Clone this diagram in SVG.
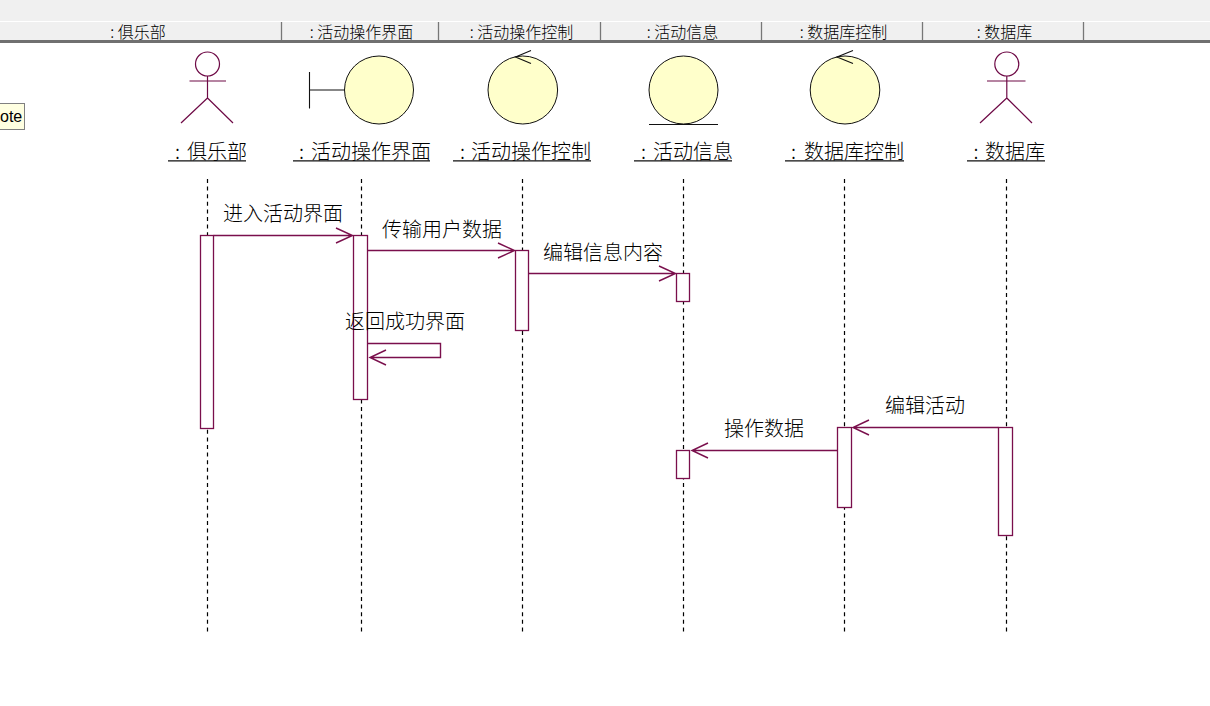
<svg xmlns="http://www.w3.org/2000/svg" width="1210" height="706" viewBox="0 0 1210 706">
<style>
text{font-family:"Noto Sans CJK SC","Noto Sans",sans-serif;fill:#000}
.h{font-size:16px;font-weight:300;text-anchor:middle}
.n{font-size:20px;font-weight:300}
.m{font-size:20px;font-weight:300}
.ul{stroke:#111;stroke-width:1.3;fill:none}
.ball{fill:#ffffcb;stroke:#111;stroke-width:1}
.ink{stroke:#111;stroke-width:1.1;fill:none}
.actor{stroke:#6e0a46;stroke-width:1.2;fill:none}
.life{stroke:#000;stroke-width:1.2;stroke-dasharray:4 3.6;fill:none}
.act{fill:#fff;stroke:#7a0f4c;stroke-width:1.3}
.msg{stroke:#7a0f4c;stroke-width:1.4;fill:none}
.sep{stroke:#777;stroke-width:1.3}
</style>
<rect width="1210" height="706" fill="#fff"/>
<g id="header">
<rect x="0" y="0" width="1210" height="41" fill="#f0f0f0"/>
<line x1="0" y1="21.500" x2="1210" y2="21.500" stroke="#fff" stroke-width="1"/>
<rect x="0" y="40" width="1210" height="3" fill="#707070"/>
<line class="sep" x1="281.500" y1="22" x2="281.500" y2="40"/>
<line class="sep" x1="438.500" y1="22" x2="438.500" y2="40"/>
<line class="sep" x1="600.500" y1="22" x2="600.500" y2="40"/>
<line class="sep" x1="761.500" y1="22" x2="761.500" y2="40"/>
<line class="sep" x1="922.500" y1="22" x2="922.500" y2="40"/>
<line class="sep" x1="1083.500" y1="22" x2="1083.500" y2="40"/>
<text class="h" x="138" y="37.500">: 俱乐部</text>
<text class="h" x="361.500" y="37.500">: 活动操作界面</text>
<text class="h" x="521.500" y="37.500">: 活动操作控制</text>
<text class="h" x="682.500" y="37.500">: 活动信息</text>
<text class="h" x="843.500" y="37.500">: 数据库控制</text>
<text class="h" x="1004.500" y="37.500">: 数据库</text>
</g>
<g id="note">
<rect x="-10" y="103.500" width="34.500" height="26" fill="#ffffe1" stroke="#808080" stroke-width="1"/>
<text x="0" y="122" font-size="16" style="font-family:'Liberation Sans',sans-serif">ote</text>
</g>
<g id="connectors">
<line class="life" x1="207.500" y1="179" x2="207.500" y2="632"/>
<line class="life" x1="361.500" y1="179" x2="361.500" y2="632"/>
<line class="life" x1="522.500" y1="179" x2="522.500" y2="632"/>
<line class="life" x1="683.500" y1="179" x2="683.500" y2="632"/>
<line class="life" x1="844.500" y1="179" x2="844.500" y2="632"/>
<line class="life" x1="1006.500" y1="179" x2="1006.500" y2="632"/>
<rect class="act" x="200.500" y="235.500" width="13" height="193"/>
<rect class="act" x="353.500" y="235.500" width="14" height="164"/>
<rect class="act" x="515.500" y="250.500" width="13" height="80"/>
<rect class="act" x="676.500" y="273.500" width="13" height="28"/>
<rect class="act" x="676.500" y="450.500" width="13" height="28"/>
<rect class="act" x="837.500" y="427.500" width="14" height="80"/>
<rect class="act" x="998.500" y="427.500" width="14" height="108"/>
<path class="msg" d="M213.500 235.500H352.500M336 228L352.500 235.500L336 243"/>
<path class="msg" d="M367.500 250.500H514.500M498 243L514.500 250.500L498 258"/>
<path class="msg" d="M528.500 273.500H675.500M659 266L675.500 273.500L659 281"/>
<path class="msg" d="M367.500 343.500H440.500V357.500H370M386 350L370 357.500L386 365"/>
<path class="msg" d="M998.500 427.500H853M869 420L853 427.500L869 435"/>
<path class="msg" d="M837.500 450.500H692M708 443L692 450.500L708 458"/>
<text class="m" x="223" y="221">进入活动界面</text>
<text class="m" x="382" y="237">传输用户数据</text>
<text class="m" x="543" y="260">编辑信息内容</text>
<text class="m" x="345" y="329">返回成功界面</text>
<text class="m" x="885" y="413">编辑活动</text>
<text class="m" x="724" y="436">操作数据</text>
</g>
<g id="actor-club">
<ellipse class="actor" cx="207.500" cy="64" rx="12" ry="12"/>
<path class="actor" d="M207.500 76V98M189.500 81H226M207.500 98L181 123M207.500 98L233 123"/>
<text class="n" x="175" y="159">:</text><text class="n" x="187" y="159">俱乐部</text>
<line class="ul" x1="168" y1="160.800" x2="246" y2="160.800"/>
</g>
<g id="boundary-ui">
<path class="ink" d="M309.500 72V108.500M309.500 90H344.500"/>
<ellipse class="ball" cx="379" cy="90" rx="34.500" ry="34"/>
<text class="n" x="299" y="159">:</text><text class="n" x="311" y="159">活动操作界面</text>
<line class="ul" x1="293" y1="160.800" x2="430" y2="160.800"/>
</g>
<g id="control-activity">
<ellipse class="ball" cx="522.800" cy="90" rx="34.800" ry="34"/>
<path class="ink" d="M531 50.500L515.500 57L531 63.500"/>
<text class="n" x="460" y="159">:</text><text class="n" x="471" y="159">活动操作控制</text>
<line class="ul" x1="453" y1="160.800" x2="591" y2="160.800"/>
</g>
<g id="entity-info">
<ellipse class="ball" cx="683.500" cy="90" rx="34.500" ry="34"/>
<line class="ink" x1="649" y1="124.500" x2="718" y2="124.500"/>
<text class="n" x="641" y="159">:</text><text class="n" x="653" y="159">活动信息</text>
<line class="ul" x1="634" y1="160.800" x2="732" y2="160.800"/>
</g>
<g id="control-db">
<ellipse class="ball" cx="845" cy="90" rx="34.800" ry="34"/>
<path class="ink" d="M853 50.500L837 57L853 63.500"/>
<text class="n" x="791" y="159">:</text><text class="n" x="804" y="159">数据库控制</text>
<line class="ul" x1="785" y1="160.800" x2="904" y2="160.800"/>
</g>
<g id="actor-db">
<ellipse class="actor" cx="1006.800" cy="64" rx="12" ry="12"/>
<path class="actor" d="M1006.800 76V98M987 81H1025.500M1006.800 98L980 123M1006.800 98L1032 123"/>
<text class="n" x="973.500" y="159">:</text><text class="n" x="985" y="159">数据库</text>
<line class="ul" x1="967" y1="160.800" x2="1045" y2="160.800"/>
</g>
</svg>
